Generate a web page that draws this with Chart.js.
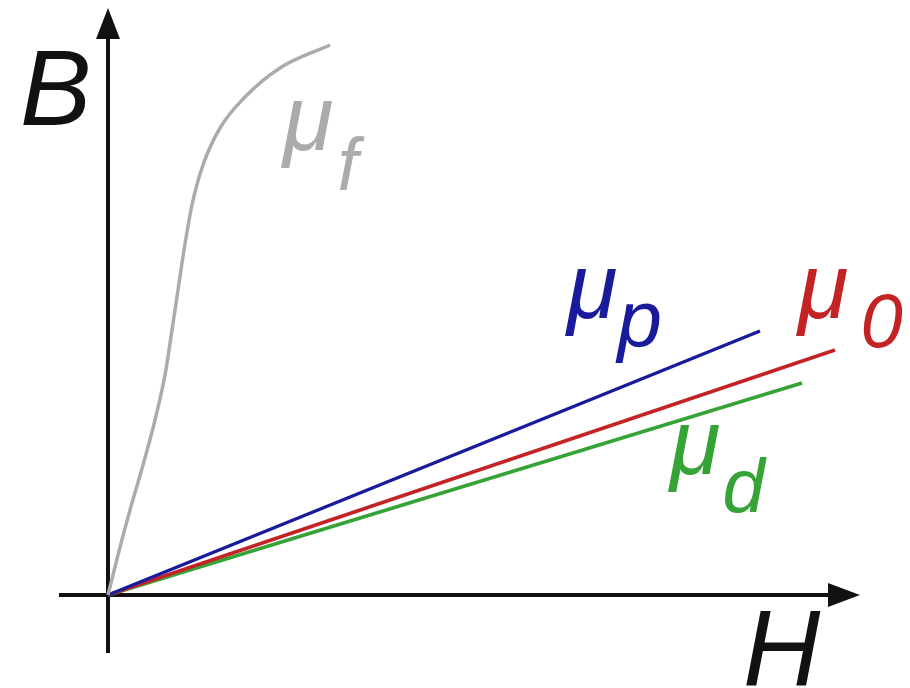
<!DOCTYPE html>
<html>
<head>
<meta charset="utf-8">
<script src="https://cdn.jsdelivr.net/npm/chart.js@4.4.1/dist/chart.umd.min.js"></script>
<style>
    html, body { margin: 0; padding: 0; background: #fff; }
    #wrap { width: 910px; height: 688px; position: relative; }
</style>
</head>
<body>
<div id="wrap"><canvas id="bh"></canvas></div>
<script>
// B-H curves (H and B in arbitrary units)
const ferroH = [0, 0.2, 0.44, 0.7, 0.94, 1.14, 1.28, 1.4, 1.52, 1.68, 1.9, 2.24, 2.74, 3.44, 4.44];
const ferroB = [0, 0.8, 1.7, 2.6, 3.5, 4.4, 5.3, 6.1, 6.9, 7.8, 8.6, 9.34, 9.96, 10.54, 11.0];
const paraH = [0, 13.04];
const paraB = [0, 5.28];
const vacuumH = [0, 14.54];
const vacuumB = [0, 4.9];
const diaH = [0, 13.88];
const diaB = [0, 4.24];

const toPoints = (hs, bs) => hs.map((h, i) => ({ x: h, y: bs[i] }));

// hand-drawn arrow axes through the origin
const axesPlugin = {
    id: "arrowAxes",
    beforeDatasetsDraw(chart) {
        const { ctx, scales: { x, y } } = chart;
        const x0 = x.getPixelForValue(0), y0 = y.getPixelForValue(0);
        const left = x.getPixelForValue(-0.98), right = x.getPixelForValue(15.04);
        const bottom = y.getPixelForValue(-1.16), top = y.getPixelForValue(11.74);
        ctx.save();
        ctx.strokeStyle = "#111";
        ctx.fillStyle = "#111";
        ctx.lineWidth = 4;
        ctx.beginPath();
        ctx.moveTo(left, y0); ctx.lineTo(right - 20, y0);
        ctx.moveTo(x0, bottom); ctx.lineTo(x0, top + 20);
        ctx.stroke();
        ctx.beginPath();
        ctx.moveTo(right, y0); ctx.lineTo(right - 32, y0 - 12); ctx.lineTo(right - 32, y0 + 12); ctx.closePath();
        ctx.moveTo(x0, top); ctx.lineTo(x0 - 12, top + 31); ctx.lineTo(x0 + 12, top + 31); ctx.closePath();
        ctx.fill();
        ctx.restore();
    }
};

const labelPlugin = {
    id: "curveLabels",
    afterDatasetsDraw(chart, args, opts) {
        const { ctx, scales: { x, y } } = chart;
        ctx.save();
        ctx.textBaseline = "alphabetic";
        ctx.textAlign = "left";
        opts.items.forEach((it) => {
            const px = x.getPixelForValue(it.h), py = y.getPixelForValue(it.b);
            ctx.fillStyle = it.color;
            ctx.font = `italic ${it.size}px "Liberation Sans", Arial, sans-serif`;
            ctx.fillText(it.text, px, py);
            if (it.sub) {
                const w = ctx.measureText(it.text).width;
                ctx.font = `italic ${it.subSize}px "Liberation Sans", Arial, sans-serif`;
                ctx.fillText(it.sub, px + w + it.gap, py + it.drop);
            }
        });
        ctx.restore();
    }
};

const lineStyle = { pointRadius: 0, pointHoverRadius: 0, borderWidth: 3.5, fill: false };

new Chart(document.getElementById("bh").getContext("2d"), {
    type: "line",
    data: {
        datasets: [
            { label: "μf", data: toPoints(ferroH, ferroB), borderColor: "#ababab", cubicInterpolationMode: "monotone", ...lineStyle },
            { label: "μp", data: toPoints(paraH, paraB), borderColor: "#1a1a9c", ...lineStyle },
            { label: "μ0", data: toPoints(vacuumH, vacuumB), borderColor: "#c42326", ...lineStyle },
            { label: "μd", data: toPoints(diaH, diaB), borderColor: "#36a336", ...lineStyle }
        ]
    },
    options: {
        responsive: true,
        maintainAspectRatio: false,
        animation: false,
        layout: { padding: 0, autoPadding: false },
        scales: {
            x: { type: "linear", display: false, min: -2.16, max: 16.04 },
            y: { type: "linear", display: false, min: -1.86, max: 11.9 }
        },
        plugins: {
            legend: { display: false },
            tooltip: { enabled: false },
            curveLabels: {
                items: [
                    { text: "B", h: -1.76, b: 9.4, color: "#111", size: 107 },
                    { text: "H", h: 12.7, b: -1.8, color: "#111", size: 107 },
                    { text: "μ", sub: "f", h: 3.5, b: 8.9, color: "#ababab", size: 92, subSize: 74, gap: 4, drop: 40 },
                    { text: "μ", sub: "p", h: 9.18, b: 5.54, color: "#1a1a9c", size: 92, subSize: 80, gap: 0, drop: 28 },
                    { text: "μ", sub: "0", h: 13.8, b: 5.54, color: "#c42326", size: 92, subSize: 76, gap: 12, drop: 29 },
                    { text: "μ", sub: "d", h: 11.24, b: 2.42, color: "#36a336", size: 92, subSize: 76, gap: 2, drop: 38 }
                ]
            }
        }
    },
    plugins: [axesPlugin, labelPlugin]
});
</script>
</body>
</html>
